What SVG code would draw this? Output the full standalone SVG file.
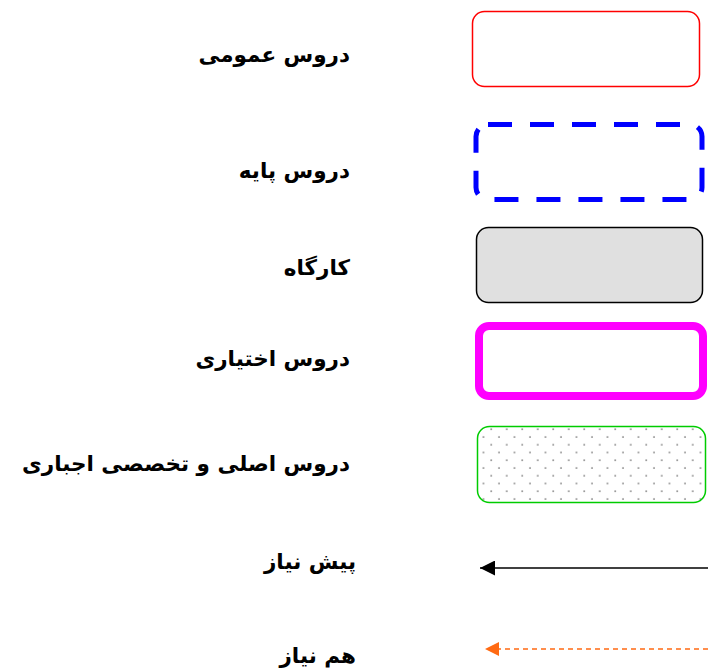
<svg xmlns="http://www.w3.org/2000/svg" width="708" height="669" viewBox="0 0 708 669">
<defs>
<style>
.lbl{font-family:"DejaVu Sans",sans-serif;font-weight:bold;font-size:21.5px;fill:#000;text-anchor:end}
</style>
<pattern id="dots" x="0" y="0" width="15.5" height="15.5" patternUnits="userSpaceOnUse">
<circle cx="3" cy="3" r="0.9" fill="#777"/>
<circle cx="10.75" cy="10.75" r="0.9" fill="#777"/>
</pattern>
<marker id="ah" viewBox="0 0 10 10" refX="10" refY="5" markerWidth="16" markerHeight="15" markerUnits="userSpaceOnUse" orient="auto">
<path d="M0,0 L10,5 L0,10 Z" fill="#000"/>
</marker>
<marker id="ahO" viewBox="0 0 10 10" refX="10" refY="5" markerWidth="15" markerHeight="14" markerUnits="userSpaceOnUse" orient="auto">
<path d="M0,0 L10,5 L0,10 Z" fill="#ff6a13"/>
</marker>
</defs>
<rect width="708" height="669" fill="#fff"/>
<g id="general">
<rect x="472.5" y="11.5" width="227" height="75" rx="12" fill="#fff" stroke="#ff0000" stroke-width="1.5"/>
<text class="lbl" x="350" y="62">دروس عمومی</text>
</g>
<g id="basic">
<rect x="476" y="124.5" width="226" height="75" rx="12" fill="none" stroke="#0000ff" stroke-width="5" stroke-dasharray="24 18"/>
<text class="lbl" x="350" y="178">دروس پایه</text>
</g>
<g id="workshop">
<rect x="476.5" y="227.5" width="226" height="75" rx="12" fill="#e0e0e0" stroke="#000" stroke-width="1.5"/>
<text class="lbl" x="350" y="275">کارگاه</text>
</g>
<g id="elective">
<rect x="479" y="326" width="224" height="70" rx="10" fill="#fff" stroke="#ff00ff" stroke-width="8"/>
<text class="lbl" x="350" y="366">دروس اختیاری</text>
</g>
<g id="core">
<rect x="477.5" y="426.5" width="228" height="76" rx="12" fill="url(#dots)" stroke="#00cc00" stroke-width="1.5"/>
<text class="lbl" x="350" y="471">دروس اصلی و تخصصی اجباری</text>
</g>
<g id="legend-labels">
<text class="lbl" x="356" y="569">پیش نیاز</text>
<text class="lbl" x="356" y="663">هم نیاز</text>
</g>
<g id="connectors">
<line x1="708" y1="568" x2="480" y2="568" stroke="#000" stroke-width="1.5" marker-end="url(#ah)"/>
<line x1="708" y1="649" x2="485" y2="649" stroke="#ff6a13" stroke-width="1.5" stroke-dasharray="5 4" marker-end="url(#ahO)"/>
</g>
</svg>
